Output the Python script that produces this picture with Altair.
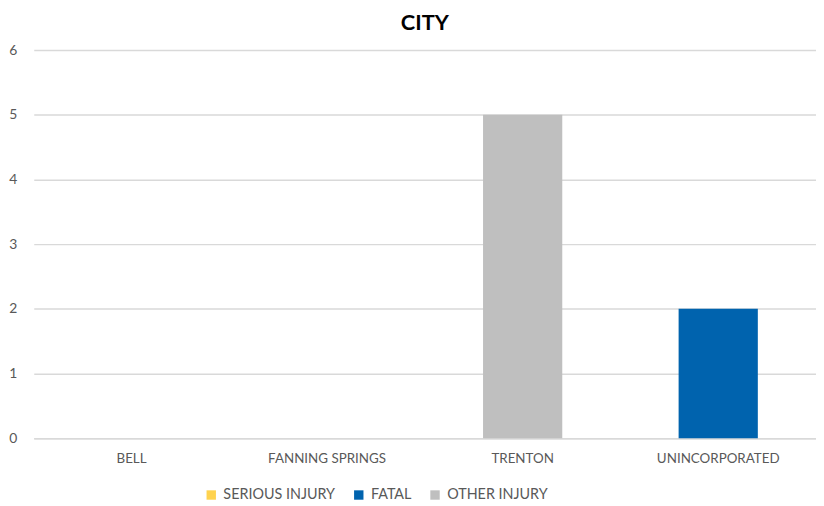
import altair as alt
import pandas as pd

cities = ["BELL", "FANNING SPRINGS", "TRENTON", "UNINCORPORATED"]
series = ["SERIOUS INJURY", "FATAL", "OTHER INJURY"]
serious = [0, 0, 0, 0]
fatal = [0, 0, 0, 2]
other = [0, 0, 5, 0]
colors = ["#FFD34F", "#0063AE", "#BFBFBF"]

rows = []
for i, c in enumerate(cities):
    for s, vals in zip(series, [serious, fatal, other]):
        rows.append({"city": c, "series": s, "value": vals[i], "order": series.index(s)})
df = pd.DataFrame(rows)

FONT = "Lato"

chart = alt.Chart(df).mark_bar().encode(
    x=alt.X("city:N", sort=cities, title=None,
            scale=alt.Scale(paddingInner=0, paddingOuter=0),
            axis=alt.Axis(labelAngle=0, ticks=False, domain=True, domainColor="#D9D9D9",
                          domainWidth=1.5, labelFontSize=13.5, labelColor="#595959",
                          labelPadding=14, labelFont=FONT, grid=False)),
    y=alt.Y("value:Q", stack="zero", title=None,
            scale=alt.Scale(domain=[0, 6], nice=False),
            axis=alt.Axis(values=[0, 1, 2, 3, 4, 5, 6], ticks=False, domain=False,
                          gridColor="#D9D9D9", gridWidth=1.5, labelFontSize=14,
                          labelColor="#595959", labelPadding=17, labelFont=FONT)),
    color=alt.Color("series:N", sort=series,
                    scale=alt.Scale(domain=series, range=colors),
                    legend=alt.Legend(title=None, orient="none", direction="horizontal",
                                      legendX=172, legendY=442, symbolType="square",
                                      symbolSize=90, symbolStrokeWidth=0,
                                      labelFontSize=14.5, labelColor="#595959",
                                      labelFont=FONT, columnPadding=16, labelOffset=5)),
    order=alt.Order("order:Q"),
    size=alt.value(80),
).properties(
    width=790, height=392,
    title=alt.Title("CITY", fontSize=22, font=FONT, fontWeight="bold", color="#000000",
                    anchor="middle", offset=8),
    autosize=alt.AutoSizeParams(type="none"),
    padding={"left": 26, "top": 40, "right": 0, "bottom": 66},
).configure_view(stroke=None)

chart.save("out.html", embed_options={"renderer": "svg", "actions": False})
